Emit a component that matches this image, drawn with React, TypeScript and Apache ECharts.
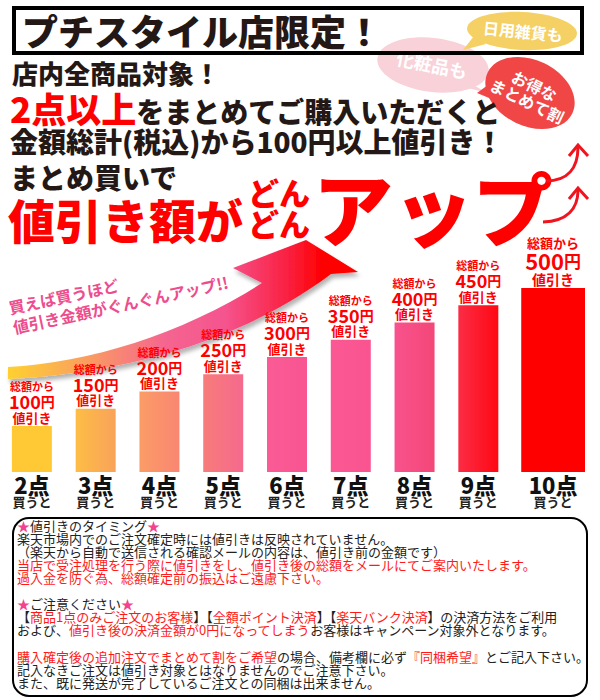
import React, { useEffect, useRef } from 'react';
import * as echarts from 'echarts';

// ---------- data ----------
const categories = ['2点', '3点', '4点', '5点', '6点', '7点', '8点', '9点', '10点'];
const discounts = [100, 150, 200, 250, 300, 350, 400, 450, 500];
const barLeftColors = ['#ffc935', '#fdbd45', '#fb9c66', '#f87c7a', '#fa5b95', '#fb5893', '#f8528d', '#fb2c46', '#ff0000'];
const barRightColors = ['#ffc935', '#f9a35a', '#f98672', '#f5698e', '#f85592', '#f95490', '#f44778', '#ff0812', '#ff0000'];
const labelTop = '総額から';
const labelUnit = '円';
const labelBottom = '値引き';
const subLabel = '買うと';

const headerTitle = 'プチスタイル店限定！';
const headerLine1 = '店内全商品対象！';
const headerLine2a = '2点以上';
const headerLine2b = 'をまとめてご購入いただくと';
const headerLine3 = '金額総計(税込)から100円以上値引き！';
const headerLine4 = 'まとめ買いで';
const headerBig = '値引き額が';
const headerDon = 'どん';
const headerUp = 'アップ';
const bubbleYellow = '日用雑貨も';
const bubblePink = '化粧品も';
const bubbleRed = 'お得な\nまとめて割';
const swooshText = '買えば買うほど\n値引き金額がぐんぐんアップ!!';

type Seg = [string, string];
const noteLines: Seg[][] = [
  [['s', '★'], ['k', '値引きのタイミング'], ['s', '★']],
  [['k', '楽天市場内でのご注文確定時には値引きは反映されていません。']],
  [['k', '（楽天から自動で送信される確認メールの内容は、値引き前の金額です）']],
  [['r', '当店で受注処理を行う際に値引きをし、値引き後の総額をメールにてご案内いたします。']],
  [['r', '過入金を防ぐ為、総額確定前の振込はご遠慮下さい。']],
  [],
  [['s', '★'], ['k', 'ご注意ください'], ['s', '★']],
  [['k', '【'], ['r', '商品1点のみご注文のお客様'], ['k', '】【'], ['r', '全額ポイント決済'], ['k', '】【'], ['r', '楽天バンク決済'], ['k', '】の決済方法をご利用']],
  [['k', 'および、'], ['r', '値引き後の決済金額が0円になってしまう'], ['k', 'お客様はキャンペーン対象外となります。']],
  [],
  [['r', '購入確定後の追加注文でまとめて割をご希望'], ['k', 'の場合、備考欄に必ず'], ['r', '『同梱希望』'], ['k', 'とご記入下さい。']],
  [['k', '記入なきご注文は値引き対象とはなりませんのでご注意下さい。']],
  [['k', 'また、既に発送が完了しているご注文との同梱は出来ません。']],
];

const Y_MIN = -33;
const Y_MAX = 500;

// ---------- styles ----------
const JP = '"Noto Sans CJK JP", "Noto Sans", sans-serif';
const RED = '#ff0000';
const DARK = '#231815';
const NOTE_DARK = '#222222';
const NOTE_RED = '#ff1a1a';
const STAR = '#f5428f';

const SWOOSH = 'M8 367 C 90 362 180 335 262 283 L 233 268 L 306 240 L 358 272 L 331 274 C 250 335 140 372 8 379 Z';
echarts.graphic.registerShape('swoosh', echarts.graphic.extendPath(SWOOSH, {}));

function txt(x: number, y: number, text: string, size: number, fill: string, extra: any = {}) {
  return {
    type: 'text',
    x,
    y,
    style: {
      text,
      fontSize: size,
      fontWeight: 'bold',
      fontFamily: JP,
      fill,
      align: 'left',
      textAlign: 'left',
      verticalAlign: 'middle',
      textVerticalAlign: 'middle',
      ...extra,
    },
  };
}

function buildGraphics() {
  const els: any[] = [];
  // pink bubble (behind box)
  els.push({ type: 'polygon', shape: { points: [[462, 78], [487, 93], [468, 88]] }, style: { fill: '#f9d1d9' } });
  els.push({ type: 'ellipse', x: 433, y: 65, rotation: -0.12, shape: { cx: 0, cy: 0, rx: 56, ry: 27 }, style: { fill: '#f9d1d9' } });
  els.push({ type: 'group', x: 432, y: 64, rotation: -0.2, children: [txt(0, 0, bubblePink, 18, '#ffffff', { align: 'center', textAlign: 'center' })] });
  // header box
  els.push({ type: 'rect', shape: { x: 14, y: 8, width: 568, height: 45 }, style: { fill: 'none', stroke: '#000', lineWidth: 4 } });
  // yellow bubble
  els.push({ type: 'polygon', shape: { points: [[474, 36], [463, 50], [486, 44]] }, style: { fill: '#f5d064' } });
  els.push({ type: 'ellipse', x: 522, y: 31, rotation: -0.05, shape: { cx: 0, cy: 0, rx: 55, ry: 19 }, style: { fill: '#f5d064' } });
  els.push({ type: 'group', x: 523, y: 31, rotation: -0.1, children: [txt(0, 0, bubbleYellow, 16, '#ffffff', { align: 'center', textAlign: 'center' })] });
  // red bubble
  els.push({ type: 'polygon', shape: { points: [[492, 82], [477, 93], [494, 100]] }, style: { fill: '#f04646' } });
  els.push({ type: 'ellipse', x: 530, y: 93, rotation: -0.45, shape: { cx: 0, cy: 0, rx: 47, ry: 33 }, style: { fill: '#f04646' } });
  els.push({ type: 'group', x: 531, y: 93, rotation: -0.45, children: [txt(0, 0, bubbleRed, 16, '#ffffff', { align: 'center', textAlign: 'center', lineHeight: 17 })] });

  // header texts
  els.push(txt(22, 30, headerTitle, 36, DARK, { fontWeight: 900 }));
  els.push(txt(12, 72, headerLine1, 26, DARK, { fontWeight: 900 }));
  els.push({
    type: 'text', x: 10, y: 106,
    style: {
      text: `{r|${headerLine2a}}{k|${headerLine2b}}`,
      align: 'left', textAlign: 'left', verticalAlign: 'middle', textVerticalAlign: 'middle',
      rich: {
        r: { fontSize: 35, fontWeight: 900, fontFamily: JP, fill: RED, lineHeight: 38, verticalAlign: 'bottom' },
        k: { fontSize: 28, fontWeight: 900, fontFamily: JP, fill: DARK, lineHeight: 38, verticalAlign: 'bottom' },
      },
    },
  });
  els.push(txt(10, 141, headerLine3, 28, DARK, { fontWeight: 900 }));
  els.push(txt(10, 177, headerLine4, 28, DARK, { fontWeight: 900 }));
  els.push(txt(8, 218, headerBig, 47, RED, { fontWeight: 900 }));
  els.push(txt(248, 191, headerDon, 31, RED, { fontWeight: 900 }));
  els.push(txt(248, 222, headerDon, 31, RED, { fontWeight: 900 }));
  els.push(txt(313, 205, headerUp, 80, RED, { fontWeight: 900 }));

  // up arrows
  const AR = '#f0141e';
  els.push({ type: 'bezierCurve', shape: { x1: 546, y1: 181, x2: 578, y2: 147, cpx1: 568, cpy1: 181, cpx2: 578, cpy2: 168 }, style: { stroke: AR, lineWidth: 3, fill: 'none' } });
  els.push({ type: 'polyline', shape: { points: [[569, 156], [578, 145], [588, 156]] }, style: { stroke: AR, lineWidth: 3, fill: 'none' } });
  els.push({ type: 'bezierCurve', shape: { x1: 543, y1: 222, x2: 578, y2: 190, cpx1: 568, cpy1: 221, cpx2: 578, cpy2: 208 }, style: { stroke: AR, lineWidth: 3, fill: 'none' } });
  els.push({ type: 'polyline', shape: { points: [[569, 199], [578, 188], [588, 199]] }, style: { stroke: AR, lineWidth: 3, fill: 'none' } });

  // swoosh arrow
  els.push({
    type: 'swoosh', x: 0, y: 0, scaleX: 1, scaleY: 1,
    style: {
      fill: new echarts.graphic.LinearGradient(0, 0, 1, 0, [
        { offset: 0, color: '#ffd030' },
        { offset: 0.15, color: '#fbb050' },
        { offset: 0.3, color: '#f88a70' },
        { offset: 0.45, color: '#f56590' },
        { offset: 0.62, color: '#f5548e' },
        { offset: 0.8, color: '#fa2040' },
        { offset: 0.9, color: '#ff0000' },
        { offset: 1, color: '#ff0000' },
      ]),
      shadowBlur: 4, shadowColor: 'rgba(0,0,0,0.3)', shadowOffsetX: 2, shadowOffsetY: 4,
    },
  });
  els.push({
    type: 'group', x: 15, y: 337, rotation: 0.21,
    children: [{
      type: 'text', x: 0, y: 0,
      style: {
        text: swooshText, fontSize: 16, fontWeight: 'bold', fontFamily: JP, fill: '#ee4d8d',
        lineHeight: 20, align: 'left', textAlign: 'left', verticalAlign: 'bottom', textVerticalAlign: 'bottom',
      },
    }],
  });

  // notes box
  els.push({ type: 'rect', shape: { x: 13, y: 518, width: 574, height: 178, r: 16 }, style: { fill: '#fff', stroke: '#000', lineWidth: 2 } });
  const noteRich = {
    k: { fontSize: 13, fontFamily: JP, fill: NOTE_DARK, lineHeight: 13 },
    r: { fontSize: 13, fontFamily: JP, fill: NOTE_RED, lineHeight: 13 },
    s: { fontSize: 13, fontFamily: JP, fill: STAR, lineHeight: 13 },
  };
  noteLines.forEach((segs, i) => {
    if (!segs.length) return;
    els.push({
      type: 'text', x: 17, y: 525 + i * 13.1,
      style: {
        text: segs.map(([k, t]) => `{${k}|${t}}`).join(''),
        rich: noteRich,
        align: 'left', textAlign: 'left', verticalAlign: 'middle', textVerticalAlign: 'middle',
      },
    });
  });
  return els;
}

function renderBar(params: any, api: any) {
  const i = api.value(0);
  const v = api.value(1);
  const top = api.coord([i, v]);
  const base = api.coord([i, Y_MIN]);
  const band = api.size([1, 0])[0];
  const idx = params.dataIndex;
  const last = idx === discounts.length - 1;
  const w = last ? band : band * 0.627;
  const cx = top[0] + (last ? 11 : 0);
  const redStyle = (size: number, lh: number) => ({ fontSize: size, fontWeight: 'bold', fontFamily: JP, fill: RED, lineHeight: lh });
  return {
    type: 'group',
    children: [
      {
        type: 'rect',
        shape: { x: cx - w / 2, y: top[1], width: w, height: base[1] - top[1] },
        style: {
          fill: new echarts.graphic.LinearGradient(0, 0, 1, 0, [
            { offset: 0, color: barLeftColors[idx] },
            { offset: 1, color: barRightColors[idx] },
          ]),
        },
      },
      {
        type: 'text',
        x: cx,
        y: top[1] - 2,
        style: {
          text: `{a|${labelTop}}\n{b|${v}}{c|${labelUnit}}\n{d|${labelBottom}}`,
          align: 'center', textAlign: 'center', verticalAlign: 'bottom', textVerticalAlign: 'bottom',
          rich: last
            ? { a: redStyle(13, 14), b: redStyle(22, 22), c: redStyle(17, 22), d: redStyle(14, 15) }
            : { a: redStyle(11, 12), b: redStyle(18, 18), c: redStyle(14, 18), d: redStyle(13, 14) },
        },
      },
    ],
  };
}

export default function App() {
  const ref = useRef<HTMLDivElement>(null);
  useEffect(() => {
    document.body.style.margin = '0';
    const chart = echarts.init(ref.current!, null, { renderer: 'svg' });
    const last = categories.length - 1;
    chart.setOption({
      animation: false,
      backgroundColor: '#ffffff',
      grid: { left: 0, right: 26, top: 288, bottom: 228 },
      xAxis: {
        type: 'category',
        data: categories,
        axisLine: { show: false },
        axisTick: { show: false },
        axisLabel: {
          interval: 0,
          margin: 0,
          formatter: (v: string, i: number) => (i === last ? `{nl|${v}}\n{sl|${subLabel}}` : `{n|${v}}\n{s|${subLabel}}`),
          rich: {
            n: { fontSize: 22, fontWeight: 900, color: '#111', fontFamily: JP, lineHeight: 23 },
            s: { fontSize: 13, fontWeight: 'bold', color: '#222', fontFamily: JP, lineHeight: 13 },
            nl: { fontSize: 22, fontWeight: 900, color: '#111', fontFamily: JP, lineHeight: 23, padding: [0, 0, 0, 22] },
            sl: { fontSize: 13, fontWeight: 'bold', color: '#222', fontFamily: JP, lineHeight: 13, padding: [0, 0, 0, 22] },
          },
        },
      },
      yAxis: { type: 'value', min: Y_MIN, max: Y_MAX, show: false, splitLine: { show: false } },
      graphic: { elements: buildGraphics() },
      series: [
        {
          type: 'custom',
          renderItem: renderBar,
          encode: { x: 0, y: 1 },
          data: discounts.map((v, i) => [i, v]),
          z: 5,
        },
      ],
    });
    return () => chart.dispose();
  }, []);
  return <div ref={ref} style={{ position: 'absolute', left: 0, top: 0, width: 600, height: 700 }} />;
}
